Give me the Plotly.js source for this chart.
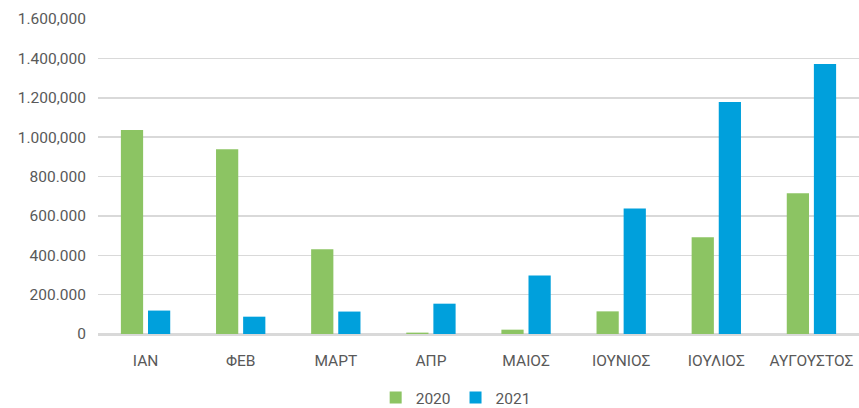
<!DOCTYPE html>
<html>
<head>
<meta charset="utf-8">
<script src="https://cdn.plot.ly/plotly-3.0.1.min.js"></script>
<style>
html,body{margin:0;padding:0;background:#fff;}
#chart{width:859px;height:408px;}
</style>
</head>
<body>
<div id="chart"></div>
<script>
const months = ["ΙΑΝ","ΦΕΒ","ΜΑΡΤ","ΑΠΡ","ΜΑΙΟΣ","ΙΟΥΝΙΟΣ","ΙΟΥΛΙΟΣ","ΑΥΓΟΥΣΤΟΣ"];
const values2020 = [1036000, 939000, 430000, 7000, 22000, 115000, 491000, 715000];
const values2021 = [119000, 88000, 114000, 154000, 297000, 638000, 1179000, 1372000];
const yTickVals = [0, 200000, 400000, 600000, 800000, 1000000, 1200000, 1400000, 1600000];
const yTickText = ["0","200.000","400.000","600.000","800.000","1.000,000","1.200,000","1.400,000","1.600,000"];

const font = {family: "Roboto, 'Open Sans', sans-serif", size: 15.5, color: "#595959"};

const data = [
  {type: "bar", name: "2020", x: months, y: values2020, marker: {color: "#8cc463"}},
  {type: "bar", name: "2021", x: months, y: values2021, marker: {color: "#00a0dc"}}
];

const layout = {
  width: 859, height: 408,
  margin: {l: 98, r: 0, t: 19, b: 74, autoexpand: false},
  paper_bgcolor: "#fff", plot_bgcolor: "#fff",
  font: font,
  barmode: "group",
  bargap: 0.43,
  bargroupgap: 0.18,
  showlegend: true,
  legend: {orientation: "h", x: 0.47, xanchor: "center", y: -0.203, yanchor: "middle",
           font: font, itemwidth: 30, traceorder: "normal"},
  xaxis: {
    type: "category", showgrid: false, zeroline: false,
    showline: true, linecolor: "#d9d9d9", linewidth: 1.5,
    ticks: "outside", ticklen: 12, tickcolor: "rgba(0,0,0,0)",
    tickfont: font, automargin: false
  },
  yaxis: {
    range: [0, 1600000], tickvals: yTickVals, ticktext: yTickText,
    showgrid: true, gridcolor: "#d9d9d9", gridwidth: 1.5,
    zeroline: true, zerolinecolor: "#d9d9d9", zerolinewidth: 1.5,
    showline: false,
    ticks: "outside", ticklen: 8, tickcolor: "rgba(0,0,0,0)",
    tickfont: font, automargin: false
  }
};

Plotly.newPlot("chart", data, layout, {displayModeBar: false, staticPlot: true});
</script>
</body>
</html>
